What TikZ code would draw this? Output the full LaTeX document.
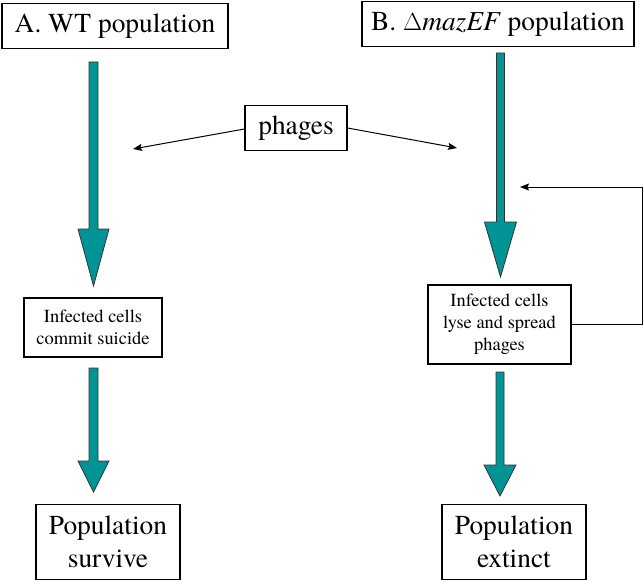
\documentclass[tikz,border=0pt]{standalone}
\usepackage{fontspec}
\setmainfont{texgyretermes}[Extension=.otf, UprightFont=*-regular, ItalicFont=*-italic, BoldFont=*-bold, BoldItalicFont=*-bolditalic]
\usetikzlibrary{arrows.meta}
\definecolor{tealfill}{RGB}{0,148,148}
\tikzset{
  box/.style={draw=black, line width=1.1bp, fill=white, inner sep=0pt, align=center},
  big/.style={font=\fontsize{27.5}{33}\selectfont},
  small/.style={font=\fontsize{18.5}{22}\selectfont},
  thin/.style={line width=1bp, -{Stealth[length=9bp,width=7bp,inset=1.5bp]}},
  fbline/.style={line width=1bp},
  block/.style={fill=tealfill, draw=black!80, line width=0.8bp, line join=miter}
}
\newcommand{\blockarrow}[6]{% x, top, base, tip, shaft half width, head half width
  \draw[block] (#1-#5,#2) -- (#1+#5,#2) -- (#1+#5,#3) -- (#1+#6,#3) -- (#1,#4)
    -- (#1-#6,#3) -- (#1-#5,#3) -- cycle;}
\begin{document}
\begin{tikzpicture}[x=1bp,y=-1bp]
\useasboundingbox (0,0) rectangle (644,584);
% top boxes
\node[box,big,minimum width=226bp,minimum height=45bp] (A) at (115,26) {A. WT population};
\node[box,big,minimum width=272bp,minimum height=45bp] (B) at (498,24) {B. $\Delta$\textit{mazEF} population};
\node[box,big,minimum width=102bp,minimum height=45bp] (ph) at (296,128) {phages};
% middle boxes
\node[box,small,minimum width=138bp,minimum height=59bp] (iA) at (93,327.5) {Infected cells\\commit suicide};
\node[box,small,minimum width=143bp,minimum height=79bp] (iB) at (499.5,324.5) {Infected cells\\lyse and spread\\phages};
% bottom boxes
\node[box,big,minimum width=144bp,minimum height=75bp] (pS) at (108,542) {Population\\survive};
\node[box,big,minimum width=144bp,minimum height=75bp] (pE) at (514,542) {Population\\extinct};
% block arrows
\blockarrow{93.5}{62}{229}{286}{4.5}{15.5}
\blockarrow{93.5}{368}{461}{492}{4.5}{15.5}
\blockarrow{500.5}{53}{222}{277}{4}{16}
\blockarrow{500}{372}{465}{496}{4}{16}
% phage arrows
\coordinate (phL) at (133,149);
\coordinate (phR) at (457,148);
\draw[thin] (ph.west |- 0,129) -- (phL);
\draw[thin] (ph.east |- 0,128) -- (phR);
% feedback
\coordinate (fbC) at (642,187);
\coordinate (fbT) at (520,187);
\draw[fbline] (iB.east) -| (fbC);
\draw[thin] (fbC) -- (fbT);
\end{tikzpicture}
\end{document}
